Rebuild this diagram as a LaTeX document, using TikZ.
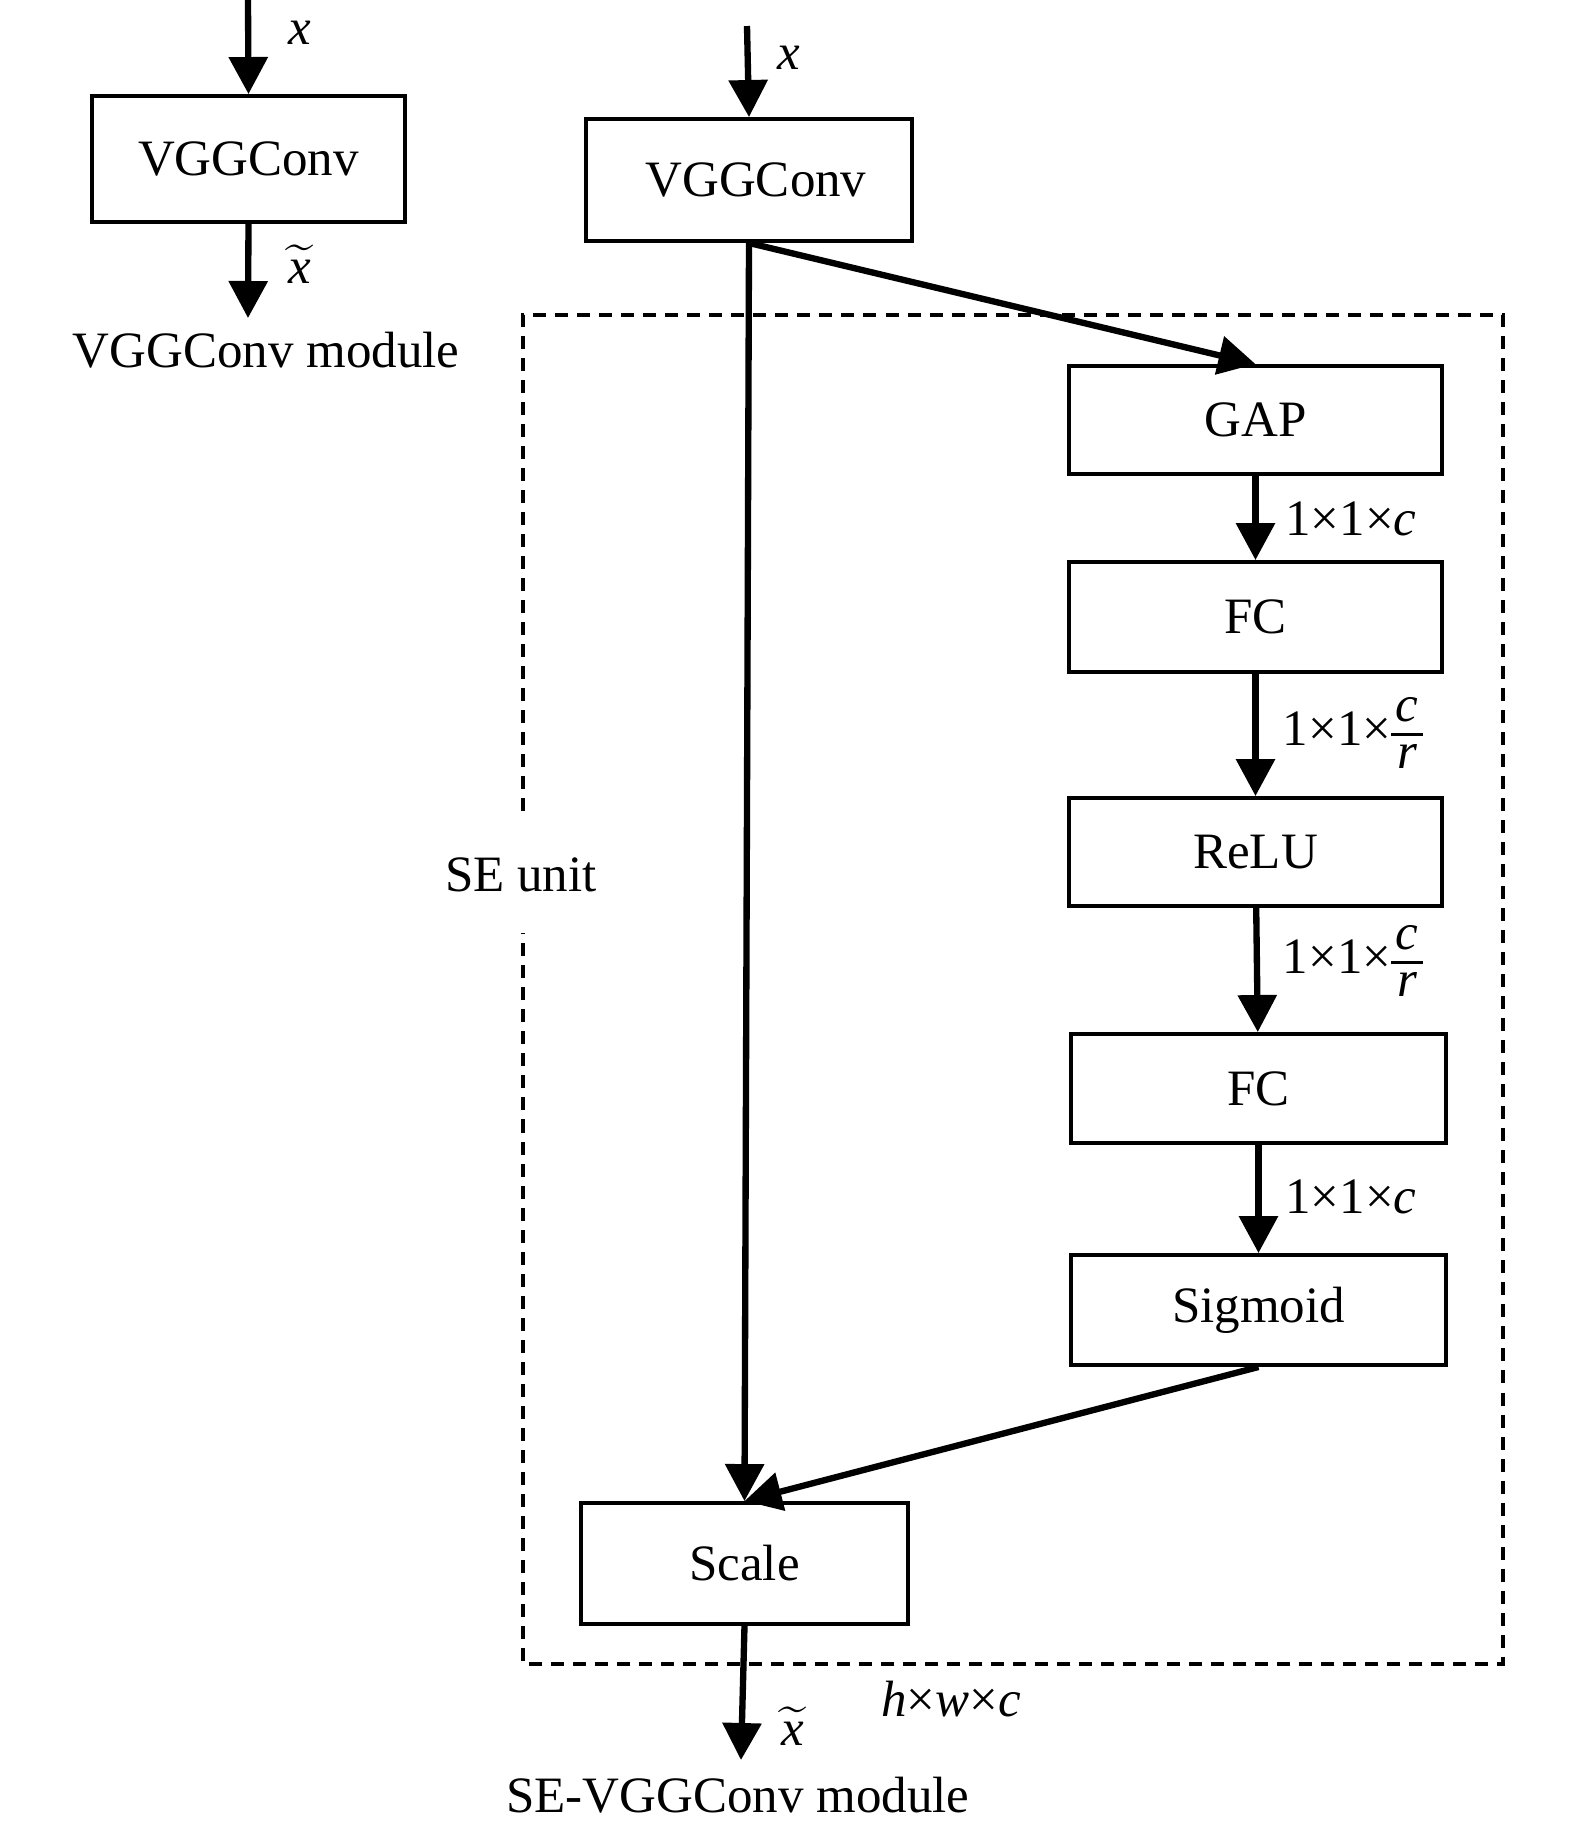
\documentclass[tikz,border=0pt]{standalone}
\usepackage{amsmath}
\usepackage{fontspec}
\setmainfont{Liberation Serif}
\usetikzlibrary{arrows.meta, positioning}

% c over r, set tight as in the figure
\newcommand{\crfrac}{$\vcenter{\offinterlineskip
  \halign{\hbox to 9pt{\hfil##\hfil}\cr
    \textit{c}\cr\noalign{\kern3pt\hrule height 0.8pt\kern2.4pt}
    \textit{r}\cr}}$}

\begin{document}
\begin{tikzpicture}[
    x=0.01cm, y=-0.01cm,
    font=\fontsize{14.5}{17}\selectfont,
    box/.style={rectangle, draw, line width=1.1pt, minimum width=3.73cm,
                minimum height=1.08cm, align=center, inner sep=0pt},
    vbox/.style={box, minimum width=3.2cm, minimum height=1.24cm},
    arrow/.style={-{Triangle[length=0.37cm, width=0.38cm]}, line width=1.8pt},
    sebox/.style={dash pattern=on 0.13cm off 0.09cm, line width=0.9pt},
]
\useasboundingbox (0,0) rectangle (1575,1829);

% VGGConv module (left)
\coordinate (inL)  at (248,0);
\coordinate (outL) at (248,318);
\node[vbox, minimum width=3.13cm, minimum height=1.26cm] (vggL) at (248.5,159) {VGGConv};
\draw[arrow] (inL) -- (vggL.north);
\draw[arrow] (vggL.south) -- (outL);
\node at (300,33)  {\textit{x}};
\node at (300,264) {$\widetilde{\textit{x}}$};
\node at (266,350) {VGGConv module};

% SE-VGGConv module (right)
\coordinate (inR)  at (747,26);
\coordinate (outR) at (741,1760);
\node[vbox, minimum width=3.26cm, minimum height=1.22cm] (vgg) at (749,180) {\hspace{4pt}VGGConv};
\node[box] (gap)  at (1255.5,420)  {GAP};
\node[box, minimum height=1.1cm] (fca)  at (1255.5,617)  {FC};
\node[box] (relu) at (1255.5,852)  {ReLU};
\node[box, minimum width=3.75cm, minimum height=1.09cm] (fcb)  at (1258.5,1088.5) {FC};
\node[box, minimum width=3.75cm, minimum height=1.1cm] (sig)  at (1258.5,1310) {Sigmoid};
\node[vbox, minimum width=3.27cm, minimum height=1.21cm] (scale) at (744.5,1563.5) {Scale};

% SE unit frame
\draw[sebox] (523,811) -- (523,315) -- (1503,315) -- (1503,1664)
             -- (523,1664) -- (523,933);
\node at (521,875) {SE unit};

% main path
\draw[arrow] (inR) -- (vgg.north);
\draw[arrow] (vgg.south) -- (scale.north);
\draw[arrow] (vgg.south) -- (gap.north);
\draw[arrow] (gap)  -- (fca);
\draw[arrow] (fca)  -- (relu);
\draw[arrow] (relu) -- (fcb);
\draw[arrow] (fcb)  -- (sig);
\draw[arrow] (sig.south) -- (scale.north);
\draw[arrow] (scale.south) -- (outR);

% Labels
\node at (1351,519)  {1×1×\textit{c}};
\node at (1353,733)  {1×1×\crfrac};
\node at (1353,961)  {1×1×\crfrac};
\node at (1351,1197) {1×1×\textit{c}};
\node at (789,58)    {\textit{x}};
\node at (793,1726)  {$\widetilde{\textit{x}}$};
\node at (951,1699)  {\textit{h}×\textit{w}×\textit{c}};
\node at (738,1795)  {SE-VGGConv module};

\end{tikzpicture}
\end{document}
